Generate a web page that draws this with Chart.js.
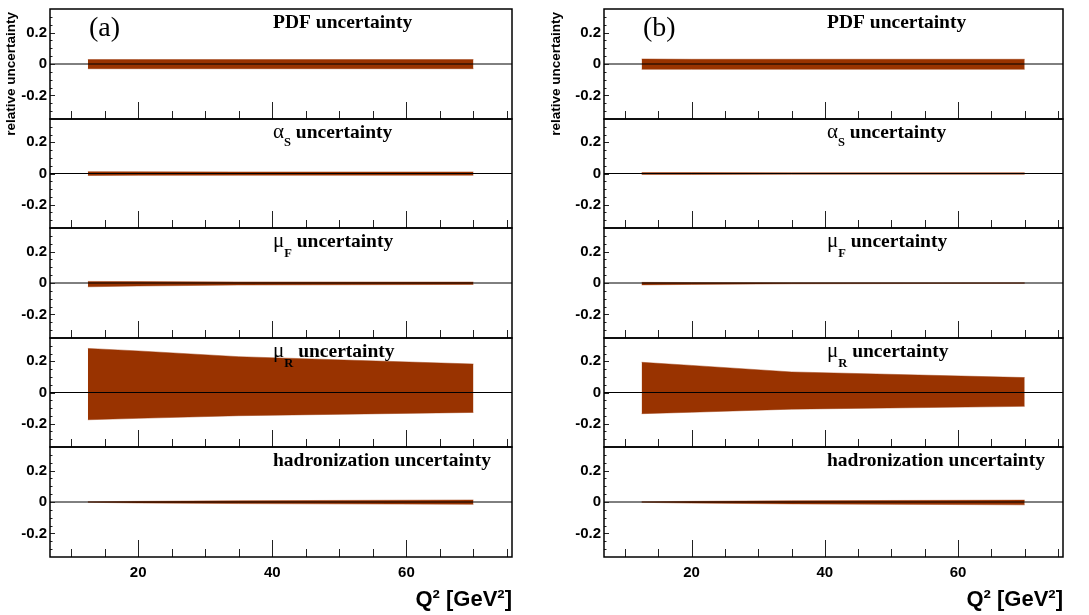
<!DOCTYPE html>
<html>
<head>
<meta charset="utf-8">
<script src="https://cdn.jsdelivr.net/npm/chart.js@4.4.1/dist/chart.umd.min.js"></script>
<style>
  html, body { margin: 0; padding: 0; background: #fff; }
  #page { position: relative; width: 1089px; height: 615px; overflow: hidden; background: #fff; }
  #page canvas { position: absolute; }
  .ytitle {
    position: absolute; width: 200px; height: 14px; line-height: 14px;
    font: bold 13.5px "Liberation Sans", Arial, sans-serif; color: #000;
    text-align: right; white-space: nowrap;
    transform-origin: 0 0; transform: rotate(-90deg);
  }
</style>
</head>
<body>
<div id="page"></div>
<script>
// ---- axes ----
const xAxisRange = [6.85, 75.75];
const yAxisRange = [-0.35, 0.35];
const xMajorTicks = [20, 40, 60];
const xMinorTicks = [10, 15, 25, 30, 35, 45, 50, 55, 65, 70, 75];
const yLabelTicks = [-0.2, 0, 0.2];
const yMinorTicks = [-0.3, -0.25, -0.15, -0.1, -0.05, 0.05, 0.1, 0.15, 0.25, 0.3];

// ---- Q² nodes of the uncertainty bands ----
const q2Nodes = [12.5, 20, 35, 70];

// ---- set (a): relative uncertainties, upper / lower edges ----
const pdfUpA = [0.028, 0.028, 0.028, 0.028];
const pdfLoA = [-0.030, -0.030, -0.030, -0.030];
const asUpA  = [0.012, 0.011, 0.010, 0.010];
const asLoA  = [-0.013, -0.012, -0.011, -0.011];
const muFUpA = [0.010, 0.009, 0.007, 0.006];
const muFLoA = [-0.024, -0.019, -0.013, -0.009];
const muRUpA = [0.283, 0.267, 0.230, 0.183];
const muRLoA = [-0.175, -0.166, -0.149, -0.128];
const hadUpA = [0.002, 0.004, 0.008, 0.013];
const hadLoA = [-0.002, -0.006, -0.010, -0.015];

// ---- set (b) ----
const pdfUpB = [0.032, 0.030, 0.030, 0.030];
const pdfLoB = [-0.034, -0.034, -0.034, -0.034];
const asUpB  = [0.006, 0.006, 0.005, 0.005];
const asLoB  = [-0.006, -0.006, -0.005, -0.005];
const muFUpB = [0.004, 0.003, 0.002, 0.001];
const muFLoB = [-0.012, -0.009, -0.005, -0.002];
const muRUpB = [0.194, 0.174, 0.132, 0.096];
const muRLoB = [-0.136, -0.127, -0.107, -0.089];
const hadUpB = [0.002, 0.004, 0.008, 0.012];
const hadLoB = [-0.002, -0.007, -0.012, -0.018];

// ---- text ----
const setTags = ['(a)', '(b)'];
const yTitleText = 'relative uncertainty';
const xTitleText = 'Q\u00B2 [GeV\u00B2]';
const panelTitles = [
  [{ t: 'PDF uncertainty', f: 'bold' }],
  [{ t: '\u03B1', f: 'greek' }, { t: 'S', f: 'sub', dy: 7.5 }, { t: ' uncertainty', f: 'bold' }],
  [{ t: '\u03BC', f: 'greek' }, { t: 'F', f: 'sub', dy: 9.5 }, { t: ' uncertainty', f: 'bold' }],
  [{ t: '\u03BC', f: 'greek' }, { t: 'R', f: 'sub', dy: 9.5 }, { t: ' uncertainty', f: 'bold' }],
  [{ t: 'hadronization uncertainty', f: 'bold' }]
];

const bandsA = [[pdfUpA, pdfLoA], [asUpA, asLoA], [muFUpA, muFLoA], [muRUpA, muRLoA], [hadUpA, hadLoA]];
const bandsB = [[pdfUpB, pdfLoB], [asUpB, asLoB], [muFUpB, muFLoB], [muRUpB, muRLoB], [hadUpB, hadLoB]];

// ---- layout (page pixels) ----
const columns = [
  { left: 50,  right: 512,  bands: bandsA, tag: setTags[0], yTitleX: 3 },
  { left: 604, right: 1063, bands: bandsB, tag: setTags[1], yTitleX: 548 }
];
const panelEdges = [9, 119, 228, 338, 447, 557];
const AXIS_W = 50, PAD = 3, XAXIS_H = 55;

const bandColor = '#993300';
const bandEdge = 'rgba(153,51,0,0.45)';

const fonts = {
  bold: 'bold 19.5px "Liberation Serif", "Times New Roman", serif',
  greek: '21px "Liberation Serif", "Times New Roman", serif',
  sub: 'bold 12.5px "Liberation Serif", "Times New Roman", serif'
};

function toPoints(ys) {
  return q2Nodes.map((x, i) => ({ x: x, y: ys[i] }));
}

// frame, inner tick marks, panel title, set tag and axis title
const panelDecor = {
  id: 'panelDecor',
  afterDatasetsDraw(chart, args, o) {
    const { ctx, chartArea: a } = chart;
    const xs = chart.scales.x, ys = chart.scales.y;
    ctx.save();
    ctx.strokeStyle = '#222';
    ctx.lineWidth = 1;
    ctx.beginPath();
    xMinorTicks.forEach(v => {
      const px = Math.round(xs.getPixelForValue(v)) + 0.5;
      ctx.moveTo(px, a.bottom); ctx.lineTo(px, a.bottom - 8);
    });
    xMajorTicks.forEach(v => {
      const px = Math.round(xs.getPixelForValue(v)) + 0.5;
      ctx.moveTo(px, a.bottom); ctx.lineTo(px, a.bottom - 17);
    });
    yMinorTicks.forEach(v => {
      const py = Math.round(ys.getPixelForValue(v)) + 0.5;
      ctx.moveTo(a.left, py); ctx.lineTo(a.left + 2.5, py);
    });
    yLabelTicks.forEach(v => {
      const py = Math.round(ys.getPixelForValue(v)) + 0.5;
      ctx.moveTo(a.left, py); ctx.lineTo(a.left + 5, py);
    });
    ctx.stroke();

    ctx.strokeStyle = '#000';
    ctx.lineWidth = 1.5;
    ctx.strokeRect(a.left, a.top, a.right - a.left, a.bottom - a.top);

    ctx.fillStyle = '#000';
    ctx.textAlign = 'left';
    ctx.textBaseline = 'alphabetic';
    let tx = a.left + 223;
    const ty = a.top + 19;
    o.title.forEach(p => {
      ctx.font = fonts[p.f];
      ctx.fillText(p.t, tx, ty + (p.dy || 0));
      tx += ctx.measureText(p.t).width;
    });
    if (o.tag) {
      ctx.font = '28px "Liberation Serif", "Times New Roman", serif';
      ctx.fillText(o.tag, a.left + 39, a.top + 26.5);
    }
    if (o.xTitle) {
      ctx.font = 'bold 22px "Liberation Sans", Arial, sans-serif';
      ctx.textAlign = 'right';
      ctx.fillText(o.xTitle, a.right, a.bottom + 48.5);
    }
    ctx.restore();
  }
};

const tickFont = { family: '"Liberation Sans", Arial, sans-serif', weight: 'bold', size: 15 };
const page = document.getElementById('page');

columns.forEach(col => {
  col.bands.forEach((band, i) => {
    const isBottom = i === col.bands.length - 1;
    const top = panelEdges[i], bottom = panelEdges[i + 1];
    const w = AXIS_W + (col.right - col.left) + PAD;
    const h = (bottom - top) + 2 * PAD + (isBottom ? XAXIS_H : 0);
    const cv = document.createElement('canvas');
    cv.width = w; cv.height = h;
    cv.style.width = w + 'px'; cv.style.height = h + 'px';
    cv.style.left = (col.left - AXIS_W) + 'px';
    cv.style.top = (top - PAD) + 'px';
    page.appendChild(cv);

    new Chart(cv, {
      type: 'line',
      data: {
        datasets: [
          { data: [{ x: xAxisRange[0], y: 0 }, { x: xAxisRange[1], y: 0 }],
            borderColor: '#000', borderWidth: 1, pointRadius: 0, fill: false, order: 0 },
          { data: toPoints(band[0]), borderColor: bandEdge, borderWidth: 1,
            backgroundColor: bandColor, fill: '+1', pointRadius: 0, tension: 0, order: 1 },
          { data: toPoints(band[1]), borderColor: bandEdge, borderWidth: 1,
            fill: false, pointRadius: 0, tension: 0, order: 1 }
        ]
      },
      options: {
        responsive: false,
        animation: false,
        events: [],
        layout: { padding: { top: PAD, bottom: PAD, left: 0, right: PAD } },
        plugins: {
          legend: { display: false },
          tooltip: { enabled: false },
          panelDecor: {
            title: panelTitles[i],
            tag: i === 0 ? col.tag : null,
            xTitle: isBottom ? xTitleText : null
          }
        },
        scales: {
          x: {
            type: 'linear', min: xAxisRange[0], max: xAxisRange[1],
            display: isBottom,
            grid: { display: false, drawTicks: false },
            border: { display: false },
            afterBuildTicks: s => { s.ticks = xMajorTicks.map(v => ({ value: v })); },
            afterFit: s => {
              if (isBottom) s.height = XAXIS_H;
              s.paddingLeft = 0; s.paddingRight = 0;
            },
            ticks: { padding: 6.5, color: '#000', font: tickFont, maxRotation: 0, autoSkip: false }
          },
          y: {
            type: 'linear', min: yAxisRange[0], max: yAxisRange[1],
            grid: { display: false, drawTicks: false },
            border: { display: false },
            afterBuildTicks: s => { s.ticks = yLabelTicks.map(v => ({ value: v })); },
            afterFit: s => { s.width = AXIS_W; s.paddingTop = 0; s.paddingBottom = 0; },
            ticks: {
              padding: 3, color: '#000', font: tickFont,
              callback: v => (v === 0 ? '0' : v.toFixed(1))
            }
          }
        }
      },
      plugins: [panelDecor]
    });
  });

  const yt = document.createElement('div');
  yt.className = 'ytitle';
  yt.textContent = yTitleText;
  yt.style.left = col.yTitleX + 'px';
  yt.style.top = '212px';
  page.appendChild(yt);
});
</script>
</body>
</html>
